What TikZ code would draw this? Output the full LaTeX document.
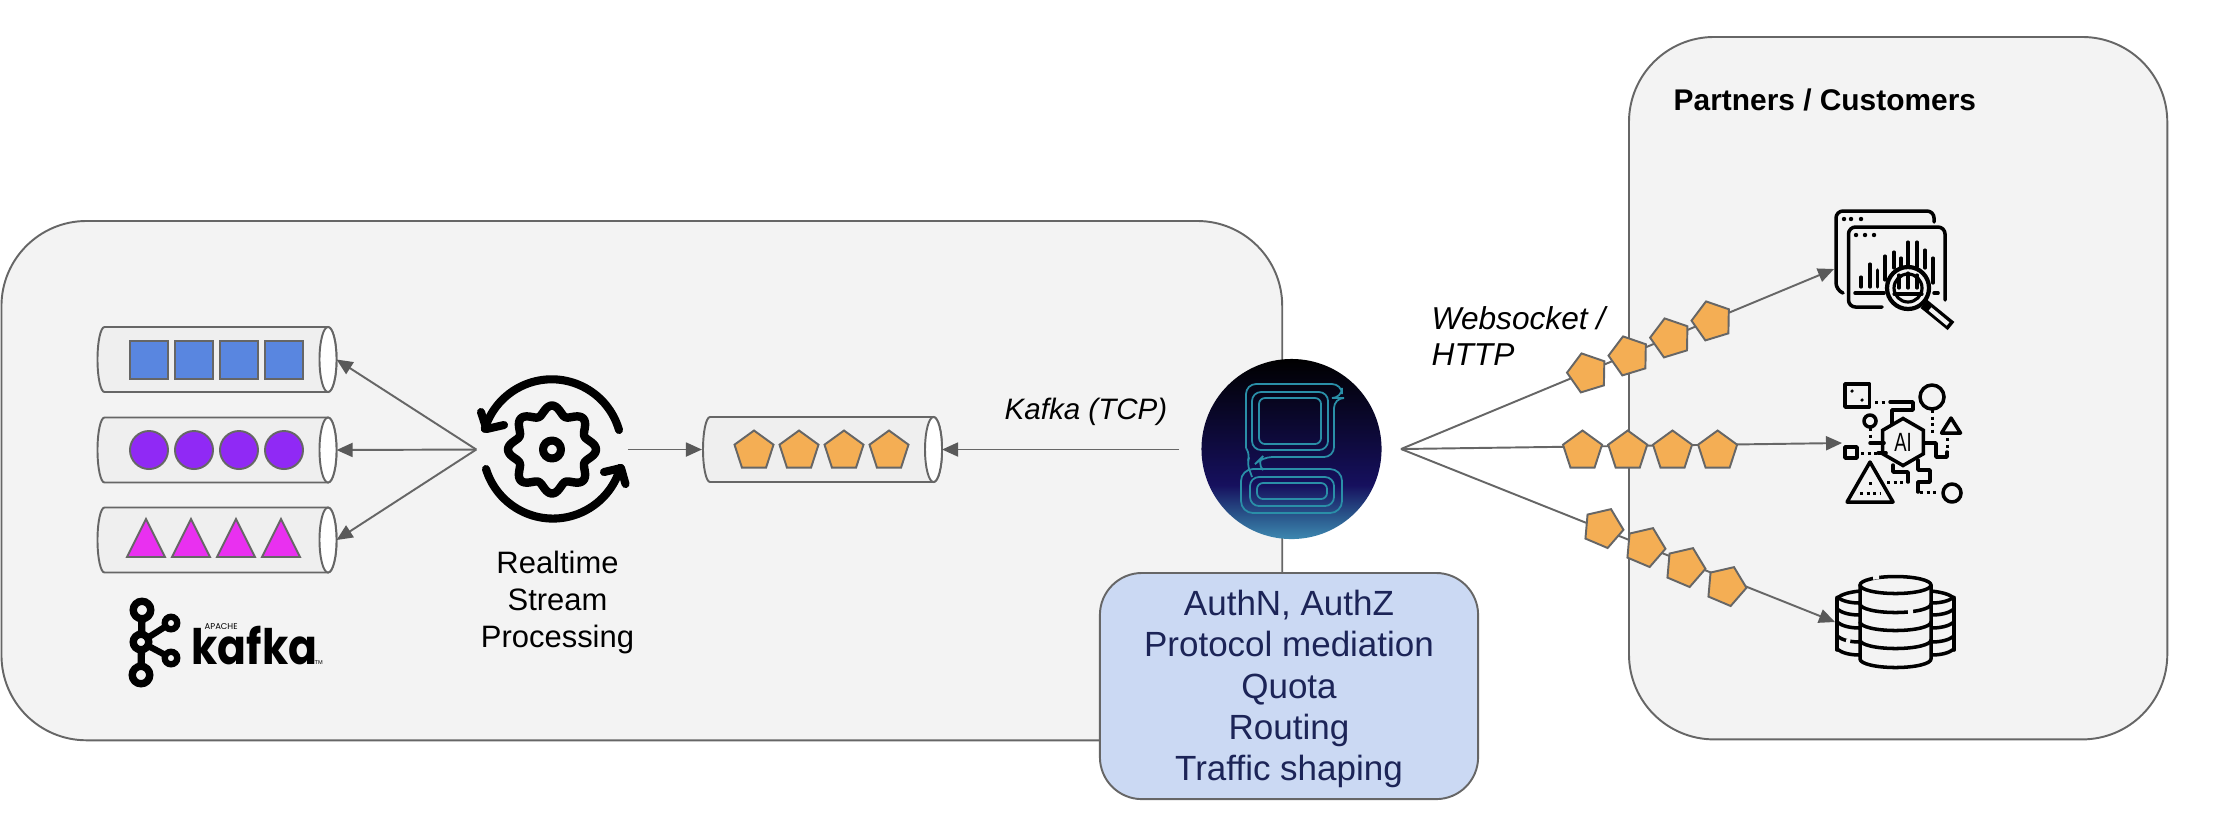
\documentclass[tikz,border=0pt]{standalone}
\usepackage{fontspec}
\setmainfont{Liberation Sans}
\newfontfamily\logofont{Poppins}
\usetikzlibrary{arrows.meta}
\usetikzlibrary{shapes.geometric}
\definecolor{edgegrey}{HTML}{666666}
\definecolor{tipgrey}{HTML}{595959}
\definecolor{panelgrey}{HTML}{F3F3F3}
\definecolor{tubegrey}{HTML}{EFEFEF}
\definecolor{packetorange}{HTML}{F4AE54}
\definecolor{boxblue}{HTML}{CBD9F3}
\definecolor{boxtext}{HTML}{1C2457}
\definecolor{logoline}{HTML}{2A8FA8}
\definecolor{gwa}{HTML}{000000}
\definecolor{gwb}{HTML}{16105E}
\definecolor{gwc}{HTML}{2B5A8E}
\definecolor{gwd}{HTML}{3D88B0}
\pgfdeclareverticalshading{gwshade}{100bp}{color(0bp)=(gwd);color(25bp)=(gwd);color(31bp)=(gwc);color(40bp)=(gwb);color(75bp)=(gwa);color(100bp)=(gwa)}
\tikzset{
	panel/.style={draw=edgegrey,fill=panelgrey,line width=0.55pt,rounded corners=0.85cm,inner sep=0pt,anchor=north west},
	tube/.style={draw=edgegrey,line width=0.55pt,fill=tubegrey},
	tubeend/.style={draw=edgegrey,line width=0.55pt,fill=white},
	tubeanchor/.style={minimum width=2.4cm,minimum height=0.65cm,inner sep=0pt,outer sep=0pt},
	item/.style={draw=edgegrey,line width=0.55pt,inner sep=0pt},
	packet/.style={item,regular polygon,regular polygon sides=5,minimum size=0.41cm,fill=packetorange},
	flow/.style={draw=edgegrey,line width=0.55pt,-{Triangle[length=0.16cm,width=0.14cm,color=tipgrey]}},
	icon/.style={draw=black,line width=1pt,line cap=round,line join=round},
	thinicon/.style={icon,line width=0.9pt},
	dots/.style={icon,line width=0.85pt,line cap=butt,dash pattern=on 0.03cm off 0.035cm},
	heavy/.style={draw=black,line width=2.3pt,line cap=round,line join=round},
	kfring/.style={circle,draw,line width=2.1pt,fill=panelgrey,inner sep=0pt},
	plain/.style={inner sep=0pt,align=center,font=\fontsize{8.8}{10.4}\selectfont},
	slanted/.style={inner sep=0pt,align=left,font=\fontsize{9}{10.2}\selectfont\itshape},
	gline/.style={draw=logoline,line width=0.5pt},
	gapmark/.style={draw=panelgrey,line width=1.5pt}
}
\newcommand{\tubeat}[3]{
	\node[tubeanchor] (#1) at (#2,#3) {};
	\draw[tube] (#2-112,#3-32.5) -- (#2+111.5,#3-32.5) arc[start angle=-90,end angle=90,x radius=8.5,y radius=32.5] -- (#2-112,#3+32.5) arc[start angle=90,end angle=270,x radius=7,y radius=32.5] -- cycle;
	\draw[tubeend] (#2+111.5,#3) ellipse [x radius=8.5,y radius=32.5];
}
\begin{document}
\begin{tikzpicture}[x=0.01cm,y=-0.01cm]
	\useasboundingbox (0,0) rectangle (2222,820);
	\node[panel,minimum width=12.8cm,minimum height=5.19cm] (streampanel) at (0.5,220) {};
	\node[panel,minimum width=5.38cm,minimum height=7.02cm] (partnerpanel) at (1628,36) {};

	\tubeat{topicblue}{216.5}{359.5}
	\tubeat{topicpurple}{216.5}{450}
	\tubeat{topicpink}{216.5}{540}
	\tubeat{topicout}{822}{449.5}
	\foreach \i/\x in {1/149,2/194,3/239,4/284} {
		\node[item,minimum size=0.38cm,fill={rgb,255:red,89;green,134;blue,224}] (sq\i) at (\x,360) {};
		\node[item,circle,minimum size=0.38cm,fill={rgb,255:red,144;green,41;blue,245}] (dot\i) at (\x,450) {};
		\draw[item,fill={rgb,255:red,233;green,48;blue,240}] (\x-22,557) -- (\x-3,519) -- (\x+16,557) -- cycle;
	}
	\foreach \i/\x in {1/754,2/799,3/844,4/889} {
		\node[packet] (pk\i) at (\x,451) {};
	}

	% kafka logo
	\draw[line width=2.1pt] (142,610) -- (141,675);
	\draw[line width=1.8pt] (141,642) -- (171,623) (141,642) -- (171,658);
	\node[kfring,minimum size=0.175cm] (kftop) at (142,610) {};
	\node[kfring,minimum size=0.175cm] (kfbot) at (141,675) {};
	\node[kfring,minimum size=0.155cm] (kfmid) at (141,642) {};
	\node[kfring,line width=1.8pt,minimum size=0.125cm] (kfup) at (171,623) {};
	\node[kfring,line width=1.8pt,minimum size=0.125cm] (kfdown) at (171,658) {};
	\node[inner sep=0pt,anchor=base west,xscale=0.87,transform shape,font=\logofont\bfseries\fontsize{13.9}{13.9}\selectfont] (kafkaword) at (191,664) {kafka};
	\node[inner sep=0pt,anchor=base west,font=\logofont\fontsize{2.4}{2.4}\selectfont] (apacheword) at (204,629) {APACHE};
	\node[inner sep=0pt,anchor=base west,font=\fontsize{1.6}{1.6}\selectfont] (tmword) at (314,664) {TM};

	% gear
	\node[circle,minimum size=1.5cm,inner sep=0pt] (gear) at (552,449.5) {};
	\draw[heavy,line width=2.4pt] plot[domain=0:360,samples=145,smooth] ({552+(39.5+4.5*cos(8*\x))*cos(\x)},{449.5+(39.5+4.5*cos(8*\x))*sin(\x)}) -- cycle;
	\draw[heavy] (gear.center) circle (9);
	\draw[heavy] (619,430) arc[start angle=-16,end angle=-163,radius=70];
	\draw[heavy] (481,412) -- (486.5,429) -- (504,425);
	\draw[heavy] (486,469) arc[start angle=163,end angle=16,radius=70];
	\draw[heavy] (604,472) -- (621,468) -- (625.5,484);
	\node[plain,anchor=base] (gearlabel) at (557.5,647) {Realtime\\Stream\\Processing};

	\coordinate (gwin) at (1179,449.5);
	\coordinate (gwout) at (1401,449);
	\coordinate (dashin) at (1834,269);
	\coordinate (aiin) at (1842,443);
	\coordinate (dbin) at (1835,622);

	\draw[flow] (gear.west) -- (topicblue.east);
	\draw[flow] (gear.west) -- (topicpurple.east);
	\draw[flow] (gear.west) -- (topicpink.east);
	\draw[flow] (gear.east) -- (topicout.west);
	\draw[flow] (gwin) -- (topicout.east);
	\draw[flow] (gwout) -- (dashin);
	\draw[flow] (gwout) -- (aiin);
	\draw[flow] (gwout) -- (dbin);

	\foreach \i/\x/\y in {1/1587.5/373,2/1629/356,3/1670.6/338,4/1712/321} {
		\node[packet,rotate=17] (up\i) at (\x,\y) {};
	}
	\foreach \i/\x/\y in {1/1582.5/451,2/1627.7/451,3/1672.5/451,4/1717.6/451} {
		\node[packet] (mid\i) at (\x,\y) {};
	}
	\foreach \i/\x/\y in {1/1603/528,2/1645/547,3/1685/567,4/1726/586} {
		\node[packet,rotate=-23] (low\i) at (\x,\y) {};
	}

	% gateway logo
	\node[circle,shade,shading=gwshade,minimum size=1.8cm,inner sep=0pt] (gateway) at (1291.5,449) {};
	\draw[gline,rounded corners=0.06cm] (1259,398) rectangle (1321,444);
	\draw[gline,rounded corners=0.09cm] (1252,392) rectangle (1328,450);
	\draw[gline,rounded corners=0.1cm] (1246,448) -- (1246,384) -- (1342,384) -- (1342,398) -- (1334,398) -- (1334,457) -- (1262,457) -- (1256,463) -- (1262,469);
	\draw[gline,rounded corners=0.06cm] (1246,448) -- (1250,455) -- (1247,463) -- (1252,477);
	\draw[gline,rounded corners=0.12cm] (1241,469) rectangle (1342,513);
	\draw[gline,rounded corners=0.09cm] (1250,477) rectangle (1334,506);
	\draw[gline,rounded corners=0.06cm] (1257,483) rectangle (1327,499);

	\node[anchor=north,draw=edgegrey,fill=boxblue,line width=0.55pt,rounded corners=0.42cm,minimum width=3.78cm,minimum height=2.26cm,inner sep=0pt] (policybox) at (1289,572) {};
	\node[text=boxtext,align=center,inner sep=0pt,font=\fontsize{9.95}{11.7}\selectfont] (policytext) at (1289,689) {AuthN, AuthZ\\Protocol mediation\\Quota\\Routing\\Traffic shaping};

	\node[inner sep=0pt,anchor=base west,font=\fontsize{8.4}{10}\selectfont\itshape] (kafkalabel) at (1004,419) {Kafka (TCP)};
	\node[slanted,anchor=base west] (wslabel) at (1431,365) {Websocket /\\HTTP};
	\node[inner sep=0pt,anchor=base west,font=\fontsize{8.5}{10}\selectfont\bfseries] (partnerlabel) at (1673,110) {Partners / Customers};

	% dashboard icon
	\draw[icon,rounded corners=0.07cm] (1934,222) -- (1934,211) -- (1836,211) -- (1836,290) -- (1843,293);
	\draw[icon,rounded corners=0.07cm] (1945,300) -- (1945,227) -- (1848.5,227) -- (1848.5,307) -- (1882,307);
	\foreach \x in {1844,1851,1861} {\fill (\x,219) circle (2.2);}
	\foreach \x in {1856,1865,1874} {\fill (\x,235) circle (2.2);}
	\draw[icon] (1855,293) -- (1884,293) (1934,293) -- (1938,293);
	\foreach \x/\a/\b in {1861/277/287,1870/264/287,1877.6/270/287,1885/256/280,1894/252/268,1901/258/267,1908/242/267,1917/242/267,1925/250/268,1933/258/283} {
		\draw[thinicon] (\x,\a) -- (\x,\b);
	}
	\draw[line width=1.2pt,fill=panelgrey] (1908,288) circle (21);
	\draw[thinicon] (1908,288) circle (14);
	\draw[thinicon] (1899,275) -- (1899,288) (1908,273) -- (1908,288) (1917,275) -- (1917,288) (1894,294) -- (1922,294);
	\draw[line width=3pt] (1924,304) -- (1951,326);
	\draw[line width=1.2pt,draw=panelgrey] (1930,309) -- (1948,324);

	% ai icon
	\draw[icon] (1845,384) rectangle (1869.5,407);
	\fill (1852,391) circle (1.8) (1862,400) circle (1.8);
	\draw[icon] (1932,397) circle (12);
	\draw[icon] (1870,421) circle (6);
	\draw[icon] (1941.5,433) -- (1951,418) -- (1960.5,433) -- cycle;
	\draw[icon] (1845,447) rectangle (1857,458);
	\draw[icon] (1847,502) -- (1870,462) -- (1893,502) -- cycle;
	\draw[icon] (1952,493) circle (9);
	\node[regular polygon,regular polygon sides=6,shape border rotate=30,draw,line width=1pt,minimum size=0.47cm,inner sep=0pt,font=\fontsize{7.5}{7.5}\selectfont] (aihex) at (1903,442) {\scalebox{0.7}[1]{AI}};
	\draw[dots] (1875,402) -- (1886,402) (1932,410) -- (1932,435) (1870,428) -- (1870,438) (1861,453) -- (1878,453) (1947,438) -- (1947,452) (1887,482) -- (1906,482) (1920,492) -- (1938,492) (1870,482) -- (1870,485) (1860,493) -- (1880,493);
	\draw[icon] (1890,402) -- (1913,402) -- (1913,410) -- (1892,410) -- (1892,424);
	\draw[icon] (1870,443) -- (1884,443) (1878,453) -- (1886,453);
	\draw[icon] (1924,443) -- (1936,443) -- (1936,457) -- (1947,457) -- (1947,452);
	\draw[icon] (1893,465) -- (1893,472) -- (1908,472) -- (1908,482);
	\draw[icon] (1918,460) -- (1918,470) -- (1930,470) -- (1930,482) -- (1918,482) -- (1918,492);

	% database icon
	\draw[icon] (1837,598) .. controls (1842,594) and (1850,592) .. (1860,591);
	\draw[icon] (1954,598) .. controls (1949,594) and (1941,592) .. (1931,591);
	\draw[icon] (1837,598) -- (1837,650) (1954,598) -- (1954,650);
	\foreach \y in {603,615,628,642,655} {
		\draw[icon] (1837,\y-6) .. controls (1842,\y-2) and (1850,\y) .. (1860,\y);
		\draw[icon] (1954,\y-6) .. controls (1949,\y-2) and (1941,\y) .. (1931,\y);
	}
	\draw[icon,fill=panelgrey] (1860,585) -- (1860,659) arc[start angle=180,end angle=0,x radius=35.5,y radius=8.5] -- (1931,585);
	\draw[icon,fill=panelgrey] (1895.5,585) ellipse [x radius=35.5,y radius=8.5];
	\foreach \y in {604,622,640} {
		\draw[icon] (1860,\y) arc[start angle=180,end angle=0,x radius=35.5,y radius=8.5];
	}
	\draw[gapmark] (1873,577) -- (1879,576.5) (1908,612) -- (1913,611.5) (1846,641) -- (1850,642);
\end{tikzpicture}
\end{document}
